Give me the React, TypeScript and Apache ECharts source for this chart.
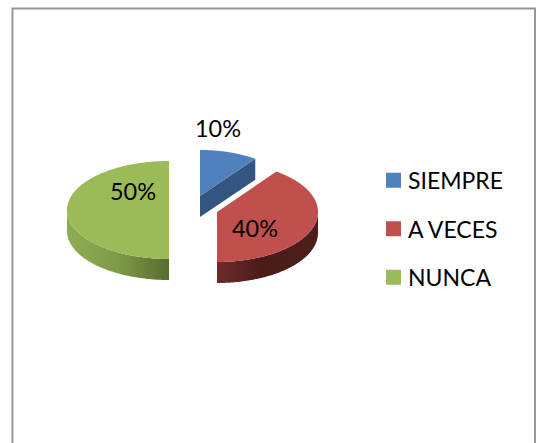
import React, { useEffect, useRef } from "react";
import * as echarts from "echarts";

const categories = ["SIEMPRE", "A VECES", "NUNCA"];
const values = [10, 40, 50];
const labels = ["10%", "40%", "50%"];
const colors = ["#4f81bd", "#c0504d", "#9bbb59"];

// Layout of each exploded slice and its label, in pixels
const sliceCentres = [[200, 196], [217, 212], [169, 210]];
const sliceRadii = [[94, 46], [101, 50], [102, 49]];
const labelCentres = [[218, 128], [255, 228], [133, 191]];
const DEPTH = 21;

const total = values.reduce((a, b) => a + b, 0);
const startAngles = values.map((_, i) =>
  values.slice(0, i).reduce((a, b) => a + b, 0) / total * 360
);

function rim(i: number, deg: number, dy = 0): number[] {
  const [cx, cy] = sliceCentres[i];
  const [rx, ry] = sliceRadii[i];
  const t = (deg * Math.PI) / 180;
  return [cx + rx * Math.sin(t), cy - ry * Math.cos(t) + dy];
}

function arc(i: number, from: number, to: number, dy = 0): number[][] {
  const pts: number[][] = [];
  const n = Math.max(2, Math.ceil(Math.abs(to - from)));
  for (let k = 0; k <= n; k++) pts.push(rim(i, from + ((to - from) * k) / n, dy));
  return pts;
}

function wallFill(i: number) {
  if (i === 0) return "#34557f";
  const stops =
    i === 1
      ? [
          { offset: 0, color: "#6e2c2a" },
          { offset: 0.45, color: "#4a1b19" },
          { offset: 1, color: "#4f1e1c" },
        ]
      : [
          { offset: 0, color: "#90ad52" },
          { offset: 0.5, color: "#7f9a48" },
          { offset: 1, color: "#586c2e" },
        ];
  return new echarts.graphic.LinearGradient(0, 0, 1, 0, stops);
}

function makeRenderItem(i: number) {
  return (_params: unknown, api: any) => {
    const sweep = (api.value(0) / total) * 360;
    const start = startAngles[i];
    const end = start + sweep;
    const [cx, cy] = sliceCentres[i];
    const children: any[] = [];

    // visible side of the slice
    let wall: number[][] | null = null;
    if (end <= 90) {
      const p = rim(i, end);
      wall = [[cx, cy], p, [p[0], p[1] + DEPTH], [cx, cy + DEPTH]];
    } else {
      const from = Math.max(start, 90);
      const to = Math.min(end, 270);
      wall = [...arc(i, from, to), ...arc(i, to, from, DEPTH)];
    }
    children.push({
      type: "polygon",
      shape: { points: wall },
      style: { fill: wallFill(i) },
    });

    // top face
    children.push({
      type: "polygon",
      shape: { points: [[cx, cy], ...arc(i, start, end)] },
      style: { fill: colors[i] },
    });

    children.push({
      type: "text",
      x: labelCentres[i][0],
      y: labelCentres[i][1],
      style: {
        text: labels[i],
        fill: "#000",
        font: "23.5px Lato",
        align: "center",
        verticalAlign: "middle",
      },
    });
    return { type: "group", children };
  };
}

export default function App() {
  const ref = useRef<HTMLDivElement>(null);
  useEffect(() => {
    const chart = echarts.init(ref.current!, undefined, { renderer: "svg" });
    chart.setOption({
      animation: false,
      backgroundColor: "#fff",
      legend: {
        orient: "vertical",
        left: 381,
        top: 162,
        icon: "rect",
        itemWidth: 15,
        itemHeight: 15,
        itemGap: 22,
        selectedMode: false,
        data: categories,
        textStyle: {
          color: "#000",
          fontFamily: "Lato",
          fontSize: 23,
          lineHeight: 26.5,
          padding: [0, 0, 0, 2],
        },
      },
      graphic: [
        {
          type: "polyline",
          silent: true,
          shape: { points: [[12.5, 443], [12.5, 8.5], [535, 8.5], [535, 443]] },
          style: { stroke: "#969696", lineWidth: 2, fill: "none" },
        },
      ],
      series: categories.map((name, i) => ({
        type: "custom",
        name,
        coordinateSystem: "none",
        silent: true,
        itemStyle: { color: colors[i] },
        data: [[values[i]]],
        renderItem: makeRenderItem(i),
      })),
    });
    return () => chart.dispose();
  }, []);
  return (
    <div
      ref={ref}
      style={{ position: "fixed", left: 0, top: 0, width: 536, height: 443 }}
    />
  );
}
